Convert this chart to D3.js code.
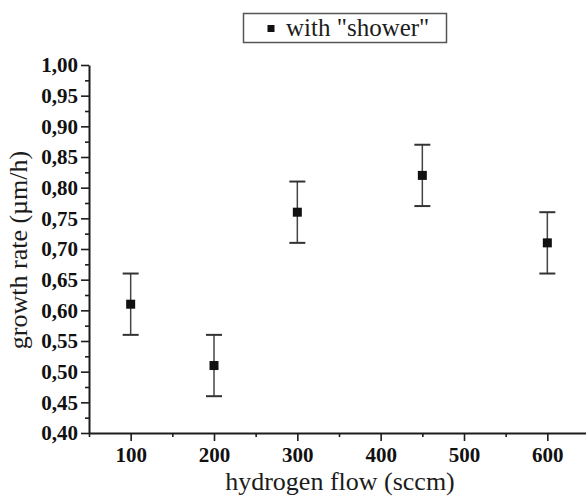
<!DOCTYPE html>
<html>
<head>
<meta charset="utf-8">
<script src="https://cdn.jsdelivr.net/npm/d3@7"></script>
<style>
  body { margin: 0; background: #fff; }
  svg { display: block; }
</style>
</head>
<body>
<div id="chart"></div>
<script>
// hydrogen flow (sccm) vs growth rate (um/h), "shower" series
var flow = [100, 200, 300, 450, 600];
var rate = [0.61, 0.51, 0.76, 0.82, 0.71];
var err = [0.05, 0.05, 0.05, 0.05, 0.05];

var xTicks = [100, 200, 300, 400, 500, 600];
var xMinor = [50, 150, 250, 350, 450, 550, 650];
var yTicks = [0.40, 0.45, 0.50, 0.55, 0.60, 0.65, 0.70, 0.75, 0.80, 0.85, 0.90, 0.95, 1.00];
var yMinor = [0.425, 0.475, 0.525, 0.575, 0.625, 0.675, 0.725, 0.775, 0.825, 0.875, 0.925, 0.975];

var width = 586, height = 498;
var ink = "#1c1c1c";
var serif = "'Liberation Serif', 'Times New Roman', serif";

var svg = d3.select("#chart").append("svg")
    .attr("width", width)
    .attr("height", height);

var x = d3.scaleLinear().domain([50, 650]).range([89, 589]);
var y = d3.scaleLinear().domain([0.40, 1.00]).range([433, 65]);

var fmt = function(d) { return d3.format(".2f")(d).replace(".", ","); };

// minor ticks first, major axis on top
svg.append("g")
    .attr("transform", "translate(89,0)")
    .call(d3.axisLeft(y).tickValues(yMinor).tickSize(4).tickFormat(""))
    .call(function(g) { g.select(".domain").remove(); });

svg.append("g")
    .attr("transform", "translate(0,433)")
    .call(d3.axisBottom(x).tickValues(xMinor).tickSize(4).tickFormat(""))
    .call(function(g) { g.select(".domain").remove(); });

svg.append("g")
    .attr("transform", "translate(89,0)")
    .call(d3.axisLeft(y).tickValues(yTicks).tickSize(8).tickSizeOuter(0).tickPadding(3).tickFormat(fmt));

svg.append("g")
    .attr("transform", "translate(0,433)")
    .call(d3.axisBottom(x).tickValues(xTicks).tickSize(8).tickSizeOuter(0).tickPadding(6).tickFormat(d3.format("d")));

svg.selectAll(".tick line").attr("stroke", ink).attr("stroke-width", 1.6);
svg.selectAll(".domain").attr("stroke", ink).attr("stroke-width", 2);
svg.selectAll(".tick text")
    .attr("fill", "#111")
    .style("font-family", serif)
    .style("font-weight", "bold")
    .style("font-size", "21px");

// axis titles
svg.append("text")
    .attr("x", 340)
    .attr("y", 490)
    .attr("text-anchor", "middle")
    .attr("fill", ink)
    .style("font-family", serif)
    .style("font-size", "26px")
    .text("hydrogen flow (sccm)");

svg.append("text")
    .attr("transform", "translate(27,250) rotate(-90)")
    .attr("text-anchor", "middle")
    .attr("fill", ink)
    .style("font-family", serif)
    .style("font-size", "26px")
    .text("growth rate (\u00b5m/h)");

// error bars
var pts = flow.map(function(f, i) { return { f: f, r: rate[i], e: err[i] }; });

var bars = svg.append("g").selectAll("g")
    .data(pts)
    .enter().append("g");

bars.append("line")
    .attr("x1", function(d) { return x(d.f); })
    .attr("x2", function(d) { return x(d.f); })
    .attr("y1", function(d) { return y(d.r + d.e); })
    .attr("y2", function(d) { return y(d.r - d.e); })
    .attr("stroke", "#444")
    .attr("stroke-width", 1.5);

[1, -1].forEach(function(s) {
    bars.append("line")
        .attr("x1", function(d) { return x(d.f) - 8; })
        .attr("x2", function(d) { return x(d.f) + 8; })
        .attr("y1", function(d) { return y(d.r + s * d.e); })
        .attr("y2", function(d) { return y(d.r + s * d.e); })
        .attr("stroke", "#333")
        .attr("stroke-width", 2);
});

bars.append("rect")
    .attr("x", function(d) { return x(d.f) - 4.5; })
    .attr("y", function(d) { return y(d.r) - 4.5; })
    .attr("width", 9)
    .attr("height", 9)
    .attr("fill", "#111");

// legend
var leg = svg.append("g");
leg.append("rect")
    .attr("x", 243.5).attr("y", 13.5)
    .attr("width", 203).attr("height", 29)
    .attr("fill", "#fff")
    .attr("stroke", "#555")
    .attr("stroke-width", 1.5);
leg.append("rect")
    .attr("x", 267.5).attr("y", 25)
    .attr("width", 7).attr("height", 7)
    .attr("fill", "#111");
leg.append("text")
    .attr("x", 286)
    .attr("y", 36)
    .attr("fill", ink)
    .style("font-family", serif)
    .style("font-size", "25px")
    .text("with \"shower\"");
</script>
</body>
</html>
